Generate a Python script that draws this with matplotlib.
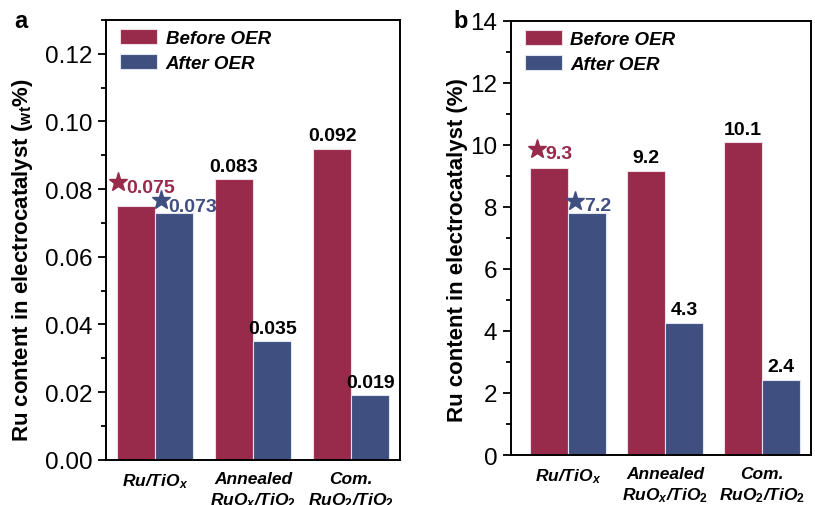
import numpy as np
import matplotlib
matplotlib.use("Agg")
import matplotlib.pyplot as plt

plt.rcParams['font.family'] = ['Liberation Sans', 'DejaVu Sans']
plt.rcParams['mathtext.fontset'] = 'custom'
plt.rcParams['mathtext.rm'] = 'Liberation Sans:bold'
plt.rcParams['mathtext.it'] = 'Liberation Sans:italic:bold'
plt.rcParams['mathtext.bf'] = 'Liberation Sans:bold'
plt.rcParams['mathtext.default'] = 'it'

# data
categories = ["Ru/TiO$_x$", "Annealed\nRuO$_x$/TiO$_2$", "Com.\nRuO$_2$/TiO$_2$"]

wt_before = [0.075, 0.083, 0.092]
wt_after = [0.073, 0.035, 0.019]
wt_before_lbl = ["0.075", "0.083", "0.092"]
wt_after_lbl = ["0.073", "0.035", "0.019"]

pct_before = [9.25, 9.17, 10.08]
pct_after = [7.8, 4.26, 2.42]
pct_before_lbl = ["9.3", "9.2", "10.1"]
pct_after_lbl = ["7.2", "4.3", "2.4"]

RED = "#982a4b"
BLUE = "#3e4f80"
W = 0.39

fig = plt.figure(figsize=(8.15, 5.06), dpi=100)
ax1 = fig.add_axes([0.130, 0.0895, 0.361, 0.869])
ax2 = fig.add_axes([0.6266, 0.0988, 0.368, 0.858])


def draw(ax, before, after, blbl, albl, ylim, major, minor, ylabel, star, lbl_off):
    x = np.arange(len(before))
    ax.bar(x - W / 2, before, W, color=RED, edgecolor="#f0dde3", linewidth=0.8, label="Before OER")
    ax.bar(x + W / 2, after, W, color=BLUE, edgecolor="#dfe6f2", linewidth=0.8, label="After OER")
    ax.set_xlim(-0.5, 2.5)
    ax.set_ylim(*ylim)
    ax.set_yticks(np.arange(ylim[0], ylim[1] + 1e-9, major))
    ax.set_yticks(np.arange(ylim[0], ylim[1] + 1e-9, minor), minor=True)
    ax.set_xticks(x)
    ax.set_xticklabels(categories, fontsize=12.5, fontweight="bold", fontstyle="italic", linespacing=1.3)
    ax.tick_params(axis="x", length=0, pad=8)
    ax.tick_params(axis="y", which="major", length=6, width=1.3, labelsize=17.5, direction="out")
    ax.tick_params(axis="y", which="minor", length=3.5, width=1.3, direction="out")
    for s in ax.spines.values():
        s.set_linewidth(1.4)
    ax.set_ylabel(ylabel, fontsize=16, fontweight="bold")

    # value labels on bars (first group is starred instead)
    for i in range(1, len(before)):
        ax.text(x[i] - W / 2, before[i] + lbl_off, blbl[i], ha="center", va="bottom",
                fontsize=14, fontweight="bold", color="black")
        ax.text(x[i] + W / 2, after[i] + lbl_off, albl[i], ha="center", va="bottom",
                fontsize=14, fontweight="bold", color="black")

    # starred labels for the first group
    (rsx, rsy, rtx, rty), (bsx, bsy, btx, bty) = star
    ax.plot(x[0] + rsx, before[0] + rsy, marker="*", ms=14, color=RED, ls="none", clip_on=False)
    ax.text(x[0] + rtx, before[0] + rty, blbl[0], ha="left", va="center",
            fontsize=14, fontweight="bold", color=RED)
    ax.plot(x[0] + bsx, after[0] + bsy, marker="*", ms=14, color=BLUE, ls="none")
    ax.text(x[0] + btx, after[0] + bty, albl[0], ha="left", va="center",
            fontsize=14, fontweight="bold", color=BLUE)

    ax.legend(loc="upper left", bbox_to_anchor=(0.015, 1.0), frameon=False, handlelength=2.0,
              handleheight=0.85, borderaxespad=0.3, labelspacing=0.35, handletextpad=0.45,
              borderpad=0.2, prop={"weight": "bold", "style": "italic", "size": 13.5})


draw(ax1, wt_before, wt_after, wt_before_lbl, wt_after_lbl, (0, 0.13), 0.02, 0.01,
     "Ru content in electrocatalyst ($_{\\mathregular{wt}}$%)",
     ((-0.38, 0.007, -0.29, 0.0056), (0.06, 0.0037, 0.14, 0.0019)), 0.0012)
draw(ax2, pct_before, pct_after, pct_before_lbl, pct_after_lbl, (0, 14), 2, 1,
     "Ru content in electrocatalyst (%)",
     ((-0.32, 0.62, -0.23, 0.46), (0.07, 0.4, 0.165, 0.23)), 0.15)
ax2.set_xlim(-0.59, 2.5)

ax1.yaxis.set_label_coords(-0.241, 0.456)
ax2.yaxis.set_label_coords(-0.142, 0.474)

fig.text(0.018, 0.945, "a", fontsize=17, fontweight="bold")
fig.text(0.556, 0.945, "b", fontsize=17, fontweight="bold")

fig.savefig("out.png", dpi=100)
